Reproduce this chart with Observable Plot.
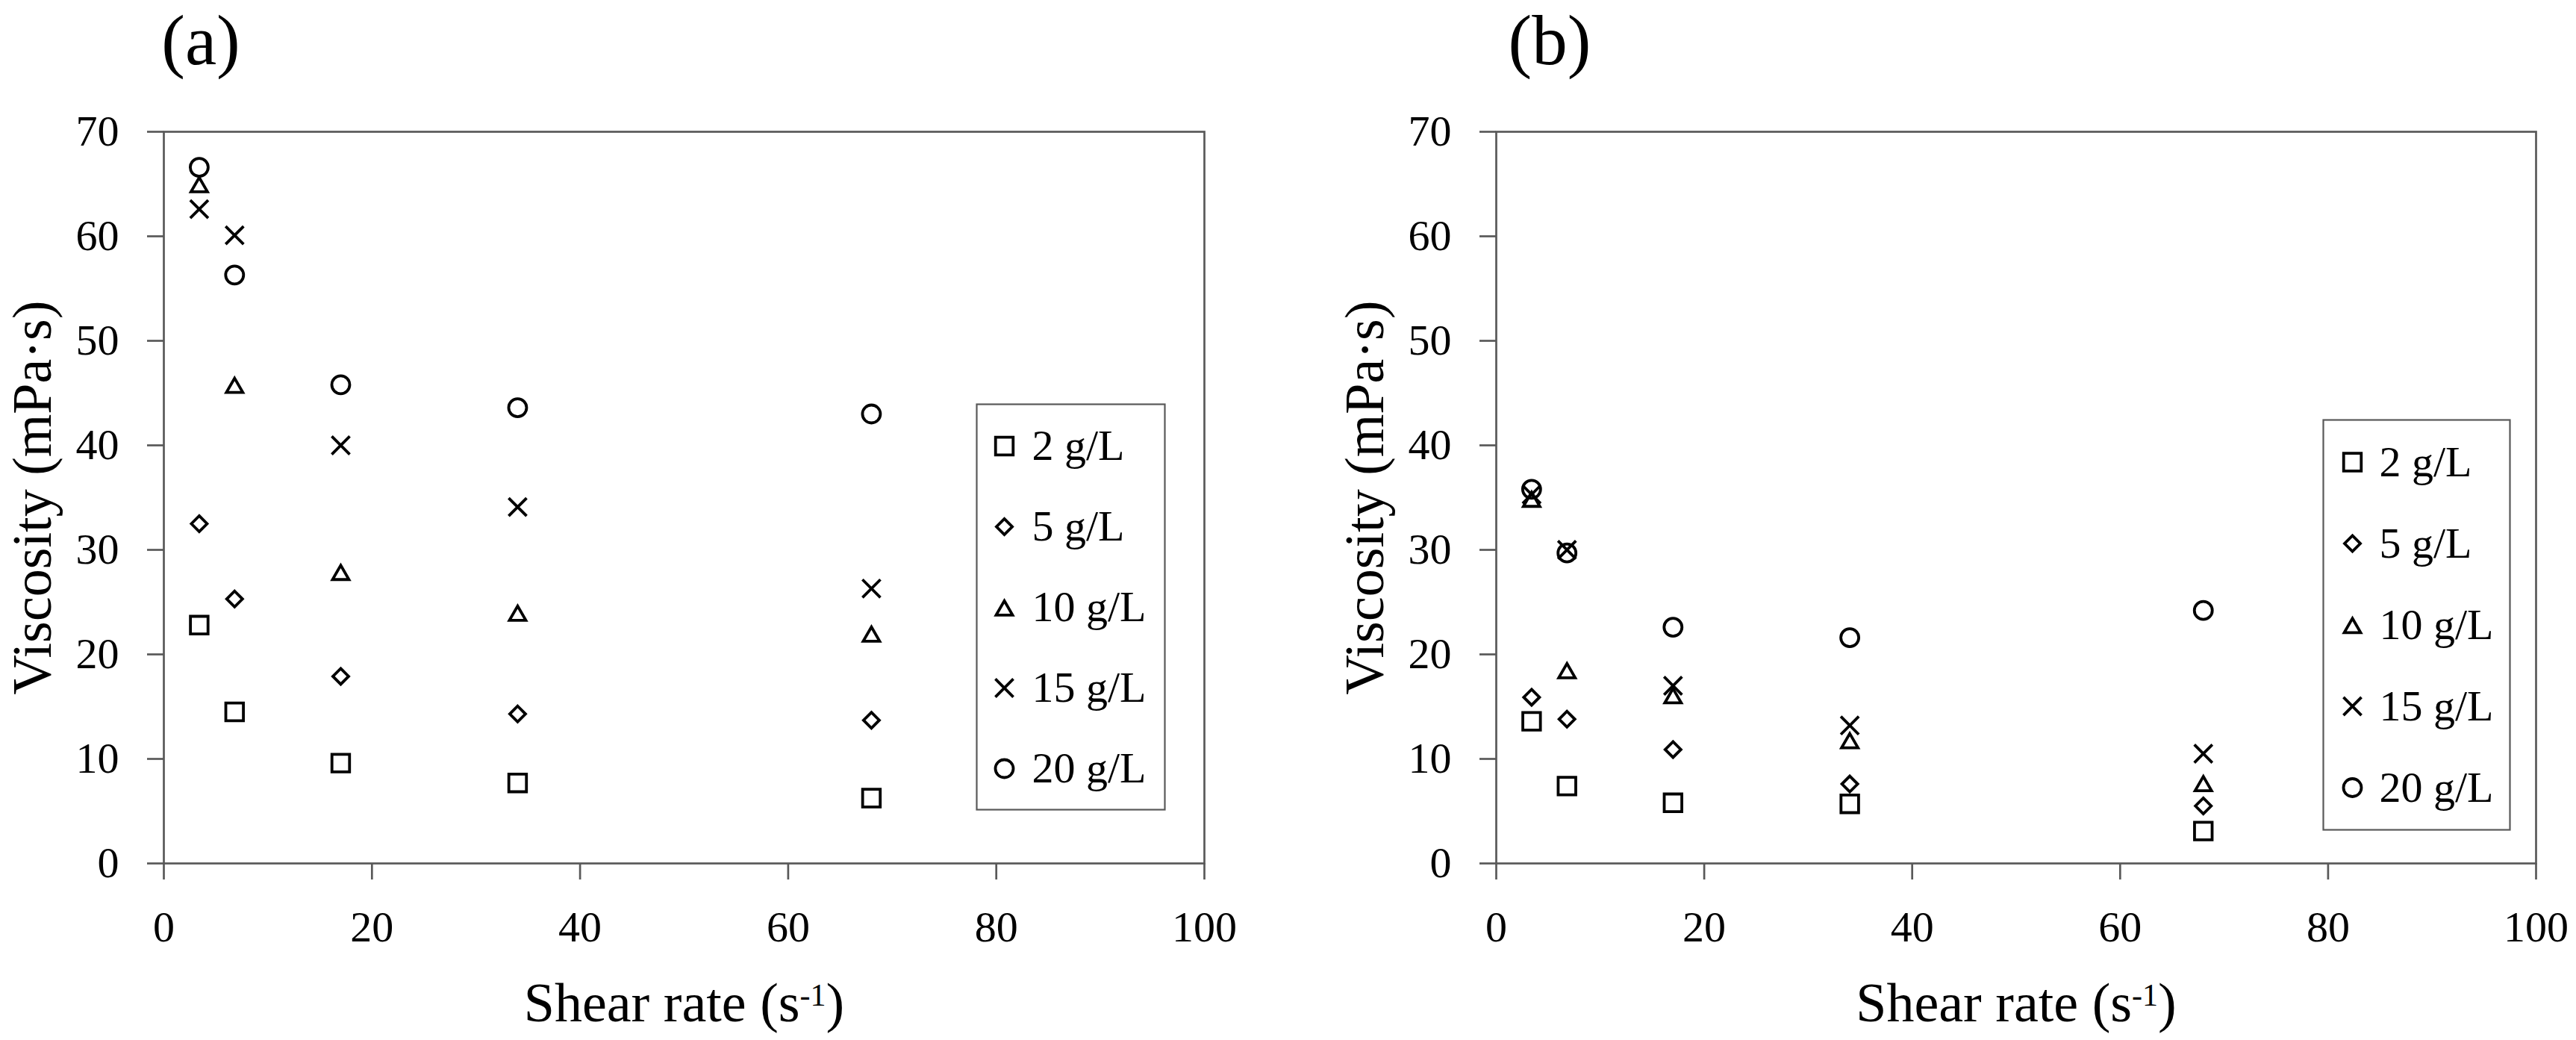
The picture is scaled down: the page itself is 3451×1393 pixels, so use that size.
<!DOCTYPE html>
<html>
<head>
<meta charset="utf-8">
<script src="https://cdn.jsdelivr.net/npm/d3@7"></script>
<script src="https://cdn.jsdelivr.net/npm/@observablehq/plot@0.6"></script>
<style>
html, body { margin: 0; padding: 0; background: #fff; overflow: hidden; }
#fig { position: relative; width: 3451px; height: 1393px; background: #fff; font-family: 'Liberation Serif', 'Times New Roman', serif; }
#fig > * { position: absolute; }
.ttl { font-size: 95px; line-height: 95px; color: #000; white-space: nowrap; transform: translateX(-50%); }
</style>
</head>
<body>
<div id="fig"></div>
<script>
// ---- data ----
const shearRate = [3.4, 6.8, 17, 34, 68];
const concentrations = ["2 g/L", "5 g/L", "10 g/L", "15 g/L", "20 g/L"];
const xTicks = [0, 20, 40, 60, 80, 100];
const yTicks = [0, 10, 20, 30, 40, 50, 60, 70];

// panel (a)
const a2  = [22.8, 14.5, 9.6, 7.7, 6.25];
const a5  = [32.5, 25.3, 17.9, 14.3, 13.7];
const a10 = [65.0, 45.8, 27.9, 24.0, 22.0];
const a15 = [62.6, 60.1, 40.0, 34.1, 26.3];
const a20 = [66.6, 56.3, 45.8, 43.6, 43.0];
// panel (b)
const b2  = [13.6, 7.4, 5.8, 5.7, 3.1];
const b5  = [15.9, 13.8, 10.9, 7.6, 5.5];
const b10 = [34.9, 18.5, 16.1, 11.8, 7.7];
const b15 = [35.3, 30.0, 17.0, 13.2, 10.5];
const b20 = [35.8, 29.7, 22.6, 21.6, 24.2];

// ---- styling ----
const GRAY = "#595959";
const FONT = "'Liberation Serif', 'Times New Roman', serif";
const symbols = ["square2", "diamond2", "triangle2", "times", "circle"];
const markerR = {square2: 15, diamond2: 9.5, triangle2: 10.5, times: 11, circle: 12};
const markerDy = {square2: 0, diamond2: 0, triangle2: 4, times: 0, circle: 0};
const MARKER_SW = 3.8;
const X_LABEL = "Shear rate (s-1)";
const Y_LABEL = "Viscosity (mPa·s)";

const fig = document.getElementById("fig");

function seriesMarks(rows, extra) {
  return concentrations.map((c, i) => Plot.dot(rows.filter(d => d.conc === c), {
    ...extra,
    symbol: symbols[i],
    r: markerR[symbols[i]],
    dy: markerDy[symbols[i]],
    stroke: "#000",
    fill: "none",
    strokeWidth: MARKER_SW
  }));
}

function panel(series, layout) {
  const rows = series.flatMap((vals, i) =>
    vals.map((v, j) => ({rate: shearRate[j], visc: v, conc: concentrations[i]})));
  const svg = Plot.plot({
    width: layout.width,
    height: 1393,
    marginLeft: layout.marginLeft,
    marginRight: layout.marginRight,
    marginTop: 176,
    marginBottom: 237,
    x: {domain: [0, 100]},
    y: {domain: [0, 70]},
    style: {fontFamily: FONT, color: "#000", background: "transparent", overflow: "visible"},
    marks: [
      Plot.frame({stroke: GRAY, strokeWidth: 2.7}),
      Plot.axisX({ticks: xTicks, tickSize: 22, tickPadding: 41, stroke: GRAY, strokeWidth: 2.7,
        fontSize: 58, label: X_LABEL, labelAnchor: "center", labelOffset: 211, labelArrow: "none"}),
      Plot.axisY({ticks: yTicks, tickSize: 22, tickPadding: 38, stroke: GRAY, strokeWidth: 2.7,
        fontSize: 58, label: Y_LABEL, labelAnchor: "center", labelOffset: 204, labelArrow: "none"}),
      ...seriesMarks(rows, {x: "rate", y: "visc"})
    ]
  });
  // axis titles: larger font, superscript for s^-1
  svg.querySelectorAll("text").forEach(t => {
    const s = t.textContent;
    if (s === Y_LABEL || s === X_LABEL || s.startsWith("Shear rate") || s.startsWith("Viscosity")) {
      t.style.fontSize = "74px";
    }
    if (s.startsWith("Shear rate")) {
      while (t.firstChild) t.removeChild(t.firstChild);
      t.appendChild(document.createTextNode("Shear rate (s"));
      const sup = document.createElementNS("http://www.w3.org/2000/svg", "tspan");
      sup.setAttribute("font-size", "42");
      sup.setAttribute("dy", "-21");
      sup.textContent = "-1";
      t.appendChild(sup);
      const close = document.createElementNS("http://www.w3.org/2000/svg", "tspan");
      close.setAttribute("font-size", "74");
      close.setAttribute("dy", "21");
      close.textContent = ")";
      t.appendChild(close);
    }
  });
  svg.style.left = layout.left + "px";
  svg.style.top = "0px";
  fig.appendChild(svg);
}

function legend(box) {
  const rows = concentrations.map(c => ({conc: c}));
  const svg = Plot.plot({
    width: box.w,
    height: box.h,
    margin: 0,
    y: {type: "band", domain: concentrations, padding: 0, axis: null},
    style: {fontFamily: FONT, color: "#000", background: "#fff", overflow: "visible"},
    marks: [
      Plot.frame({stroke: GRAY, strokeWidth: 2.2}),
      ...seriesMarks(rows, {y: "conc", frameAnchor: "left", dx: box.markerDx}),
      Plot.text(concentrations, {y: d => d, text: d => d, frameAnchor: "left", dx: box.textDx,
        textAnchor: "start", fontSize: 58, fill: "#000"})
    ]
  });
  svg.style.left = box.left + "px";
  svg.style.top = box.top + "px";
  fig.appendChild(svg);
}

function title(txt, cx, baseline) {
  const fs = 95;
  const d = document.createElement("div");
  d.className = "ttl";
  d.textContent = txt;
  d.style.left = cx + "px";
  // line-height = font-size: baseline sits at top + (ascent - half of extra content height)
  d.style.top = (baseline - (0.891 - 0.0535) * fs) + "px";
  fig.appendChild(d);
}

panel([a2, a5, a10, a15, a20], {left: 0, width: 1725, marginLeft: 219, marginRight: 112});
panel([b2, b5, b10, b15, b20], {left: 1725, width: 1726, marginLeft: 279, marginRight: 54});
legend({left: 1308, top: 541, w: 252, h: 543, markerDx: 37, textDx: 74});
legend({left: 3112, top: 562, w: 250, h: 549, markerDx: 39, textDx: 75});
title("(a)", 269, 87);
title("(b)", 2076, 87);
</script>
</body>
</html>
